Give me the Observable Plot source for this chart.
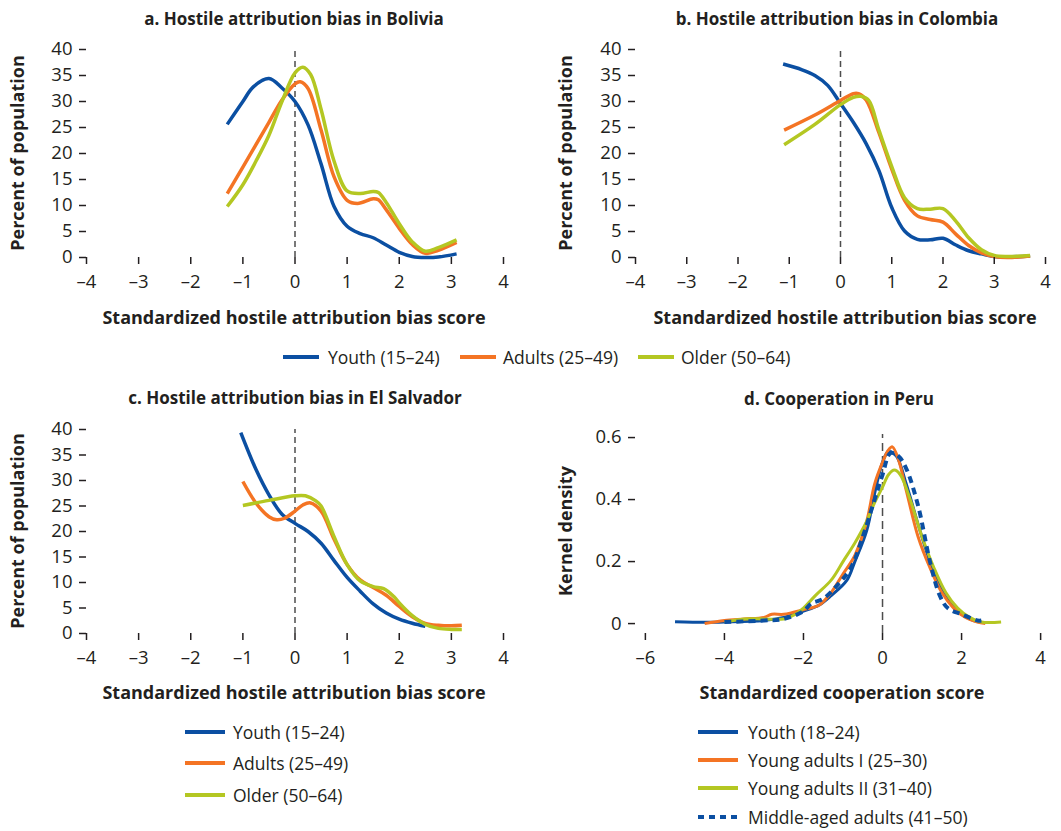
<!DOCTYPE html>
<html><head><meta charset="utf-8">
<script src="https://cdn.jsdelivr.net/npm/d3@7"></script>
<script src="https://cdn.jsdelivr.net/npm/@observablehq/plot@0.6"></script>
<style>
body{margin:0;background:#fff;font-family:"Open Sans",sans-serif;color:#231f20}
#root{position:relative;width:1061px;height:831px;overflow:hidden;background:#fff}
.c{position:absolute;white-space:nowrap;transform:translate(-50%,-50%)}
.b{font-weight:bold;font-size:18px}
.t{font-weight:bold;font-size:17px}
.yl{position:absolute;white-space:nowrap;font-weight:bold;font-size:18px;transform:translate(-50%,-50%) rotate(-90deg)}
.lg{position:absolute;white-space:nowrap;font-size:17.5px;transform:translateY(-50%)}
.abs{position:absolute}
svg.abs text{font-size:18.5px !important;font-family:"Open Sans",sans-serif !important}
</style></head><body><div id="root"></div>
<script>
// ---- groups & colours ----
const habGroups = ["Youth (15–24)", "Adults (25–49)", "Older (50–64)"];
const habColors = ["#0b4fa2", "#f47424", "#b4c722"];
const peruGroups = ["Youth (18–24)", "Young adults I (25–30)", "Young adults II (31–40)", "Middle-aged adults (41–50)"];
const peruColors = ["#0b4fa2", "#f47424", "#b4c722", "#0b4fa2"];
const habTicksX = [-4, -3, -2, -1, 0, 1, 2, 3, 4];
const habTicksY = [0, 5, 10, 15, 20, 25, 30, 35, 40];
const peruTicksX = [-6, -4, -2, 0, 2, 4];
const peruTicksY = [0, 0.2, 0.4, 0.6];

// ---- a. Bolivia ----
const boliviaYouth = [[-1.3,25.6],[-1.0,30.0],[-0.8,32.8],[-0.5,34.4],[-0.25,32.6],[0,30.0],[0.25,25.5],[0.5,18.0],[0.75,9.8],[1.0,6.0],[1.25,4.6],[1.5,3.8],[1.75,2.4],[2.0,1.0],[2.25,0.2],[2.5,0.0],[2.75,0.1],[3.1,0.7]];
const boliviaAdults = [[-1.3,12.3],[-1.0,17.4],[-0.5,26.0],[-0.25,30.3],[0,33.4],[0.1,33.8],[0.25,32.5],[0.5,24.5],[0.75,15.5],[1.0,11.0],[1.2,10.4],[1.5,11.3],[1.6,11.1],[1.75,9.2],[2.0,5.6],[2.25,2.5],[2.5,0.8],[2.75,1.4],[3.1,2.9]];
const boliviaOlder = [[-1.3,9.8],[-1.0,14.0],[-0.75,18.5],[-0.5,23.5],[-0.25,30.0],[0,35.5],[0.15,36.6],[0.3,35.2],[0.5,28.5],[0.75,18.5],[1.0,12.8],[1.25,12.3],[1.5,12.7],[1.6,12.5],[1.75,10.6],[2.0,6.5],[2.25,3.0],[2.5,1.2],[2.75,1.9],[3.1,3.4]];
// ---- b. Colombia ----
const colombiaYouth = [[-1.12,37.2],[-0.75,36.1],[-0.5,35.0],[-0.25,33.1],[0,29.6],[0.25,26.0],[0.5,21.9],[0.75,16.7],[1.0,9.6],[1.25,5.1],[1.5,3.5],[1.75,3.4],[2.0,3.7],[2.25,2.4],[2.5,1.3],[2.75,0.7],[3.0,0.2],[3.25,0.1],[3.7,0.3]];
const colombiaAdults = [[-1.1,24.5],[-0.5,27.4],[0,30.2],[0.25,31.5],[0.35,31.5],[0.5,30.3],[0.75,24.0],[1.0,17.0],[1.25,11.0],[1.5,8.0],[1.75,7.3],[2.0,6.8],[2.25,4.5],[2.5,2.3],[2.75,0.9],[3.0,0.2],[3.25,0.0],[3.7,0.3]];
const colombiaOlder = [[-1.1,21.7],[-0.5,25.6],[0,29.4],[0.25,30.8],[0.4,31.0],[0.55,30.2],[0.75,24.5],[1.0,17.5],[1.25,11.5],[1.5,9.4],[1.75,9.3],[2.0,9.4],[2.25,7.0],[2.5,3.8],[2.75,1.5],[3.0,0.4],[3.25,0.2],[3.7,0.4]];
// ---- c. El Salvador ----
const salvadorYouth = [[-1.04,39.4],[-0.75,32.2],[-0.5,27.2],[-0.25,23.4],[0,21.6],[0.25,20.0],[0.5,17.7],[0.75,14.3],[1.0,11.0],[1.25,8.3],[1.5,5.8],[1.75,4.0],[2.0,2.8],[2.25,2.0],[2.5,1.4]];
const salvadorAdults = [[-1.0,29.8],[-0.75,25.6],[-0.5,22.9],[-0.35,22.3],[-0.2,22.6],[0,24.0],[0.15,25.2],[0.3,25.6],[0.5,24.0],[0.75,18.5],[1.0,13.5],[1.25,10.5],[1.5,9.0],[1.75,7.5],[2.0,5.3],[2.25,3.3],[2.5,2.0],[2.75,1.6],[3.0,1.5],[3.2,1.6]];
const salvadorOlder = [[-1.0,25.1],[-0.5,26.1],[0,27.0],[0.2,27.0],[0.4,26.0],[0.5,25.0],[0.75,19.0],[1.0,13.5],[1.25,10.3],[1.5,9.2],[1.7,8.8],[1.9,7.2],[2.0,6.0],[2.25,3.5],[2.5,1.8],[2.75,1.0],[3.0,0.8],[3.2,0.8]];
// ---- d. Peru ----
const peruYouth = [[-5.25,0.006],[-4.5,0.004],[-4.0,0.005],[-3.0,0.01],[-2.5,0.02],[-2.0,0.04],[-1.6,0.06],[-1.3,0.09],[-0.9,0.14],[-0.7,0.2],[-0.4,0.3],[-0.2,0.42],[0,0.52],[0.15,0.555],[0.35,0.54],[0.6,0.45],[0.9,0.32],[1.2,0.2],[1.45,0.12],[1.75,0.06],[2.0,0.03],[2.3,0.01],[2.5,0.005]];
const peruYoungAdults1 = [[-4.5,0.0],[-4.0,0.01],[-3.5,0.015],[-3.0,0.02],[-2.8,0.03],[-2.5,0.03],[-2.0,0.045],[-1.6,0.06],[-1.3,0.1],[-1.0,0.16],[-0.7,0.22],[-0.4,0.33],[-0.2,0.45],[0,0.52],[0.15,0.56],[0.25,0.57],[0.4,0.53],[0.6,0.43],[0.9,0.28],[1.2,0.18],[1.5,0.1],[1.8,0.05],[2.1,0.02],[2.4,0.005],[2.6,0.0]];
const peruYoungAdults2 = [[-4.0,0.005],[-3.5,0.015],[-3.0,0.015],[-2.5,0.015],[-2.2,0.03],[-2.0,0.05],[-1.7,0.09],[-1.3,0.14],[-1.0,0.2],[-0.7,0.26],[-0.4,0.33],[-0.2,0.39],[0,0.44],[0.15,0.48],[0.3,0.495],[0.45,0.48],[0.7,0.4],[1.0,0.28],[1.3,0.18],[1.6,0.1],[1.9,0.05],[2.2,0.02],[2.5,0.005],[3.0,0.005]];
const peruMiddleAged = [[-4.0,0.005],[-3.0,0.01],[-2.5,0.015],[-2.0,0.04],[-1.8,0.065],[-1.5,0.08],[-1.1,0.13],[-0.8,0.18],[-0.5,0.28],[-0.2,0.4],[0,0.48],[0.2,0.55],[0.4,0.54],[0.6,0.5],[0.9,0.38],[1.2,0.2],[1.45,0.09],[1.65,0.05],[2.0,0.03],[2.4,0.01],[2.5,0.01]];

const root = document.getElementById("root");
const fmtMinus = d => d < 0 ? "–" + Math.abs(d) : String(d);

function addText(cls, txt, x, y) {
  const el = document.createElement("div");
  el.className = cls; el.textContent = txt;
  el.style.left = x + "px"; el.style.top = y + "px";
  root.appendChild(el);
}

function panel(o) {
  const rows = o.series.flatMap(s => s.pts.map(([x, y]) => ({g: s.g, x, y, dash: !!s.dash})));
  const solid = rows.filter(r => !r.dash), dashed = rows.filter(r => r.dash);
  const chart = Plot.plot({
    width: o.width, height: o.height,
    marginLeft: o.mL, marginRight: o.mR, marginTop: o.mT, marginBottom: o.mB,
    style: {fontFamily: "'Open Sans', sans-serif", color: "#231f20", background: "transparent", overflow: "visible"},
    x: {domain: o.xDomain},
    y: {domain: o.yDomain},
    color: {domain: o.groups, range: o.colors},
    marks: [
      Plot.ruleX([0], {y1: o.ruleY[0], y2: o.ruleY[1], stroke: "#4d4d4d", strokeWidth: 1.5, strokeDasharray: o.ruleDash}),
      Plot.line(solid, {x: "x", y: "y", z: "g", stroke: "g", strokeWidth: o.sw, curve: "catmull-rom", strokeLinecap: "butt"}),
      Plot.line(dashed, {x: "x", y: "y", z: "g", stroke: "g", strokeWidth: o.sw + 1, curve: "catmull-rom", strokeDasharray: "7,5", strokeLinecap: "butt"}),
      Plot.axisX({ticks: o.xTicks, tickFormat: fmtMinus, tickSize: 7, tickPadding: 10, line: true, label: null, stroke: "#231f20", strokeWidth: 1.5, fill: "#231f20", fontSize: 18.5}),
      Plot.axisY({ticks: o.yTicks, tickFormat: o.yFmt, tickSize: 7, tickPadding: 7, line: true, label: null, stroke: "#231f20", strokeWidth: 1.5, fill: "#231f20", fontSize: 18.5})
    ]
  });
  chart.classList.add("abs");
  chart.style.left = o.left + "px"; chart.style.top = o.top + "px";
  root.appendChild(chart);
}

const habSeries = (a, b, c) => [
  {g: habGroups[0], pts: a}, {g: habGroups[1], pts: b}, {g: habGroups[2], pts: c}
];
const habCommon = {groups: habGroups, colors: habColors, xDomain: [-4, 4], yDomain: [0, 40], xTicks: habTicksX, yTicks: habTicksY, yFmt: d => String(d), ruleY: [0, 40], ruleDash: "6,4", sw: 3.5};

panel({...habCommon, series: habSeries(boliviaYouth, boliviaAdults, boliviaOlder), left: 0, top: 30, width: 530, height: 275, mL: 86, mR: 27, mT: 19, mB: 48});
panel({...habCommon, series: habSeries(colombiaYouth, colombiaAdults, colombiaOlder), left: 530, top: 30, width: 531, height: 275, mL: 105, mR: 16, mT: 19, mB: 48});
panel({...habCommon, series: habSeries(salvadorYouth, salvadorAdults, salvadorOlder), left: 0, top: 410, width: 530, height: 271, mL: 86, mR: 27, mT: 19, mB: 48, yDomain: [0, 40]});
panel({groups: peruGroups, colors: peruColors, xDomain: [-6.25, 4.25], yDomain: [-0.032, 0.626], xTicks: peruTicksX, yTicks: peruTicksY,
  yFmt: d => d === 0 ? "0" : d.toFixed(1), ruleY: [-0.032, 0.61], ruleDash: "8,5", sw: 3,
  series: [{g: peruGroups[0], pts: peruYouth}, {g: peruGroups[1], pts: peruYoungAdults1}, {g: peruGroups[2], pts: peruYoungAdults2}, {g: peruGroups[3], pts: peruMiddleAged, dash: true}],
  left: 530, top: 410, width: 520, height: 271, mL: 105, mR: 0, mT: 19, mB: 48});

// titles
addText("c t", "a. Hostile attribution bias in Bolivia", 294, 18);
addText("c t", "b. Hostile attribution bias in Colombia", 837, 18);
addText("c t", "c. Hostile attribution bias in El Salvador", 295, 397);
addText("c t", "d. Cooperation in Peru", 839, 398);
// x labels
addText("c b", "Standardized hostile attribution bias score", 294, 317);
addText("c b", "Standardized hostile attribution bias score", 845, 317);
addText("c b", "Standardized hostile attribution bias score", 294, 692);
addText("c b", "Standardized cooperation score", 842, 692);
// y labels
addText("yl", "Percent of population", 17, 153);
addText("yl", "Percent of population", 565, 153);
addText("yl", "Percent of population", 17, 531);
addText("yl", "Kernel density", 565, 531);

// legends
function swatch(x, y, w, color, dash) {
  const ns = "http://www.w3.org/2000/svg";
  const s = document.createElementNS(ns, "svg");
  s.setAttribute("width", w); s.setAttribute("height", 8);
  s.style.position = "absolute"; s.style.left = x + "px"; s.style.top = (y - 4) + "px";
  const l = document.createElementNS(ns, "line");
  l.setAttribute("x1", 0); l.setAttribute("x2", w); l.setAttribute("y1", 4); l.setAttribute("y2", 4);
  l.setAttribute("stroke", color); l.setAttribute("stroke-width", 4);
  if (dash) l.setAttribute("stroke-dasharray", "6,5");
  s.appendChild(l); root.appendChild(s);
}
const legTopX = [[283, 328], [460, 503], [638, 681]];
habGroups.forEach((g, i) => { swatch(legTopX[i][0], 357, 36, habColors[i]); addText("lg", g, legTopX[i][1], 357); });
const legCY = [732, 763, 795];
habGroups.forEach((g, i) => { swatch(185, legCY[i], 40, habColors[i]); addText("lg", g, 233, legCY[i]); });
const legDY = [732, 760, 788, 817];
peruGroups.forEach((g, i) => { swatch(698, legDY[i], 40, peruColors[i], i === 3); addText("lg", g, 748, legDY[i]); });
</script></body></html>
